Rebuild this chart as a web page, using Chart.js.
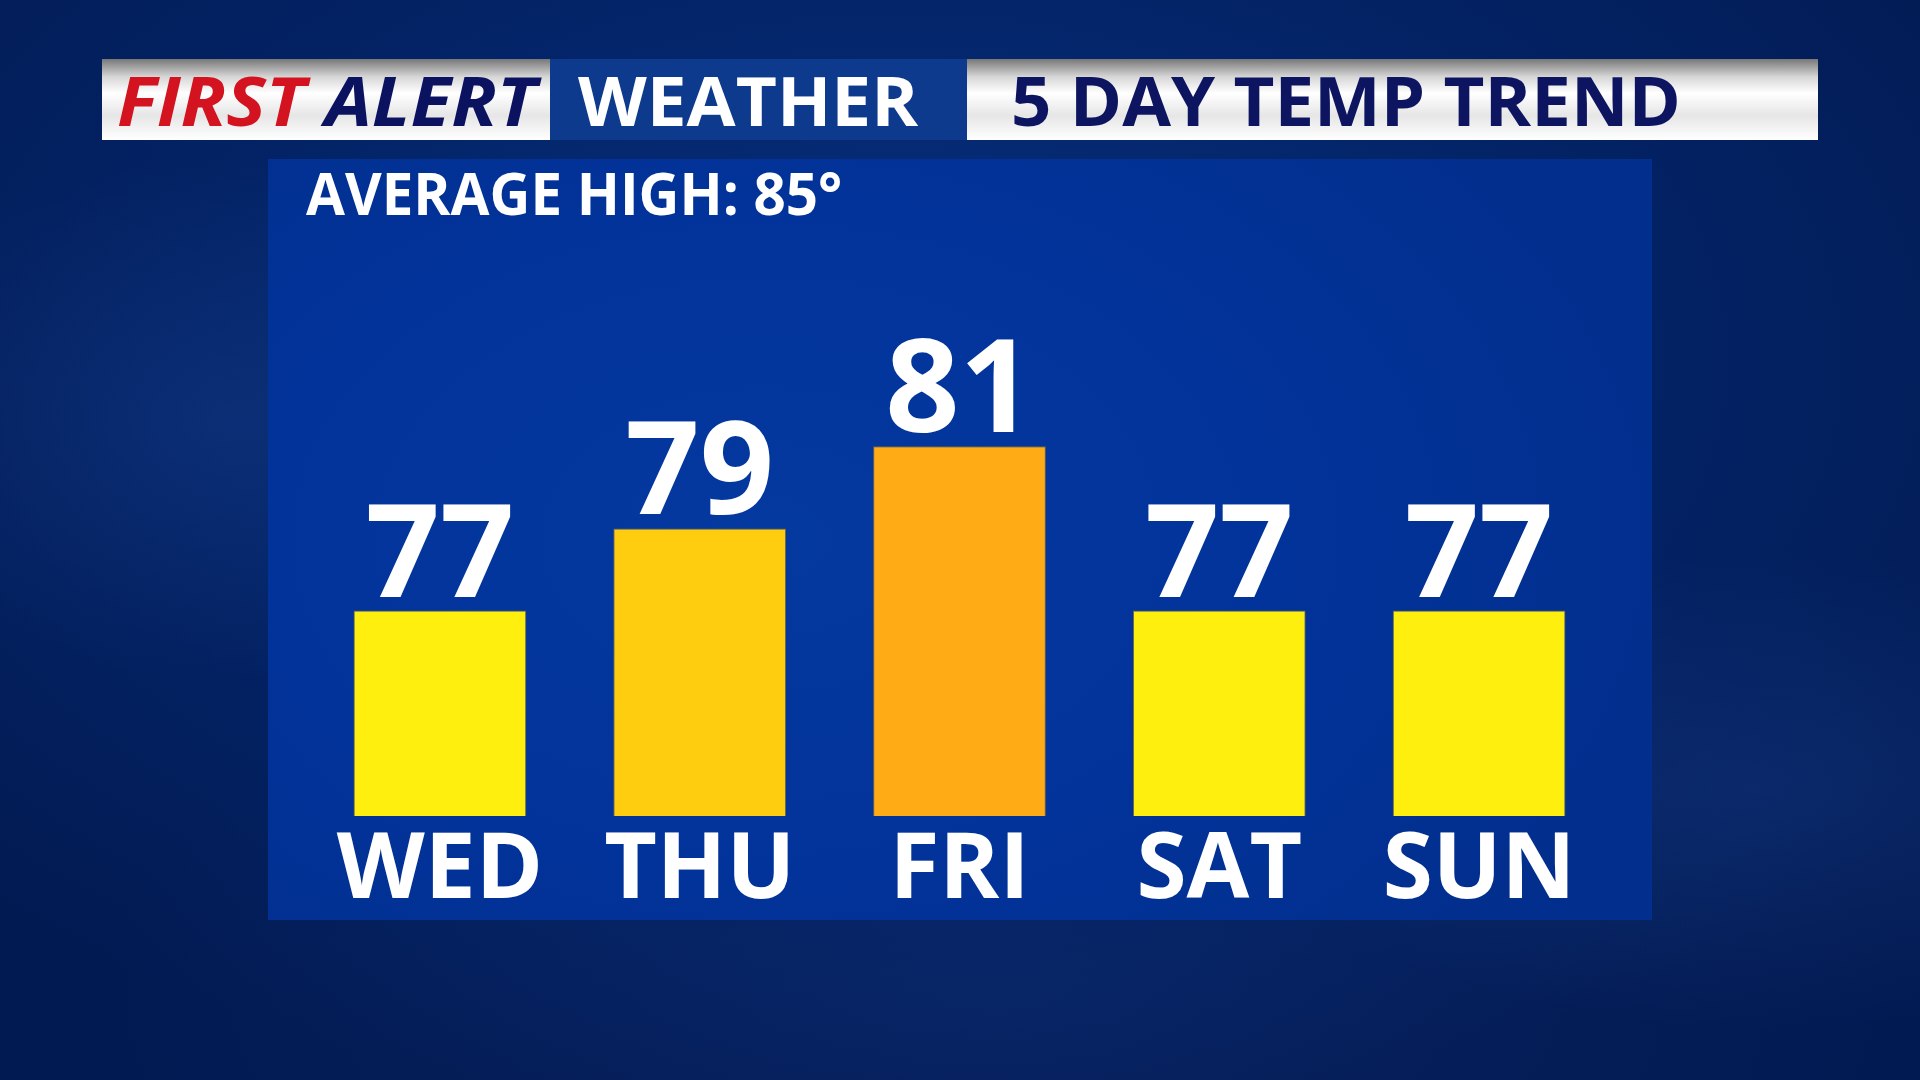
<!DOCTYPE html>
<html>
<head>
<meta charset="utf-8">
<script src="https://cdn.jsdelivr.net/npm/chart.js@4.4.1/dist/chart.umd.min.js"></script>
<style>
  html, body { margin: 0; padding: 0; }
  body {
    width: 1920px; height: 1080px; overflow: hidden; position: relative;
    font-family: 'Open Sans', 'Noto Sans', sans-serif;
    background:
      radial-gradient(ellipse 420px 260px at 230px 420px, rgba(30,70,150,0.3), rgba(0,0,0,0)),
      radial-gradient(ellipse 520px 240px at 1760px 790px, rgba(30,70,150,0.3), rgba(0,0,0,0)),
      radial-gradient(ellipse 900px 380px at 1000px 1000px, rgba(25,60,140,0.25), rgba(0,0,0,0)),
      radial-gradient(ellipse 1300px 760px at 900px 360px, #08307f 0%, #032366 55%, #021a52 100%);
  }
  .bar { position: absolute; top: 59px; height: 81px; box-sizing: border-box; }
  .w1 { left: 102px; width: 448px;
        background: linear-gradient(#777 0%, #d6d6d6 22%, #fff 42%, #e6e6e6 70%, #fff 100%); }
  .w2 { left: 550px; width: 417px; background: #0e3a8e; }
  .w3 { left: 967px; width: 851px;
        background: linear-gradient(#777 0%, #d6d6d6 22%, #fff 42%, #e6e6e6 70%, #fff 100%); }
  .ht { position: absolute; white-space: nowrap; font-weight: 700; line-height: 1; transform-origin: 0 0; }
  #panel {
    position: absolute; left: 268px; top: 159px; width: 1384px; height: 761px;
    background: radial-gradient(ellipse 900px 600px at 500px 380px, #0439a0 0%, #02339a 55%, #022f8e 100%);
  }
  #chartBox { position: absolute; left: 0; top: 0; width: 1920px; height: 1080px; }
</style>
</head>
<body>
<div class="bar w1"></div>
<div class="bar w2"></div>
<div class="bar w3"></div>
<div id="panel"></div>

<div class="ht" id="tFirst" style="left:117px; top:66px; font-size:68px; font-style:italic;">
  <span style="color:#d3131f">FIRST</span> <span style="color:#0b1260">ALERT</span>
</div>
<div class="ht" id="tWeather" style="left:578px; top:66px; font-size:68px; color:#fff;">WEATHER</div>
<div class="ht" id="tTrend" style="left:1011px; top:66px; font-size:68px; color:#0d1560;">5 DAY TEMP TREND</div>
<div class="ht" id="tAvg" style="left:306px; top:163px; font-size:59px; color:#fff;">AVERAGE HIGH: 85°</div>

<div id="chartBox"><canvas id="myChart"></canvas></div>

<script>
var days = ['WED', 'THU', 'FRI', 'SAT', 'SUN']
var highs = [77, 79, 81, 77, 77]
var barColors = ['#ffef0e', '#ffcd10', '#ffab15', '#ffef0e', '#ffef0e']

// squeeze header text to the widths seen in the picture
function fit(id, w) {
    var el = document.getElementById(id)
    var s = w / el.offsetWidth
    el.style.transform = 'scaleX(' + s + ')'
}
fit('tFirst', 419)
fit('tWeather', 340)
fit('tTrend', 670)
fit('tAvg', 536)

const valueLabels = {
    id: 'valueLabels',
    afterDatasetsDraw(chart) {
        var ctx = chart.ctx
        var meta = chart.getDatasetMeta(0)
        ctx.save()
        ctx.fillStyle = '#fff'
        ctx.font = 'bold 130px "Open Sans"'
        ctx.textAlign = 'center'
        ctx.textBaseline = 'alphabetic'
        meta.data.forEach(function(bar, i) {
            ctx.fillText(highs[i], bar.x, bar.y - 14)
        })
        ctx.restore()
    }
}

var ctx = document.getElementById('myChart');
var myChart = new Chart(ctx, {
    type: 'bar',
    data: {
        labels: days,
        datasets: [{
            data: highs,
            backgroundColor: barColors,
            borderColor: 'rgba(150,120,40,0.7)',
            borderWidth: 1,
            categoryPercentage: 0.665,
            barPercentage: 1
        }]
    },
    options: {
        responsive: true,
        maintainAspectRatio: false,
        animation: false,
        layout: { padding: { left: 310, right: 311, top: 282, bottom: 114 } },
        plugins: { legend: { display: false }, tooltip: { enabled: false } },
        scales: {
            x: {
                grid: { display: false, drawTicks: false },
                border: { display: false },
                ticks: {
                    color: '#fff',
                    padding: 1,
                    font: { family: 'Open Sans', weight: 'bold', size: 91, lineHeight: 1.2 }
                },
                afterFit: function(s) { s.height = 150 }
            },
            y: {
                display: false,
                min: 72,
                max: 85
            }
        }
    },
    plugins: [valueLabels]
});
</script>
</body>
</html>
